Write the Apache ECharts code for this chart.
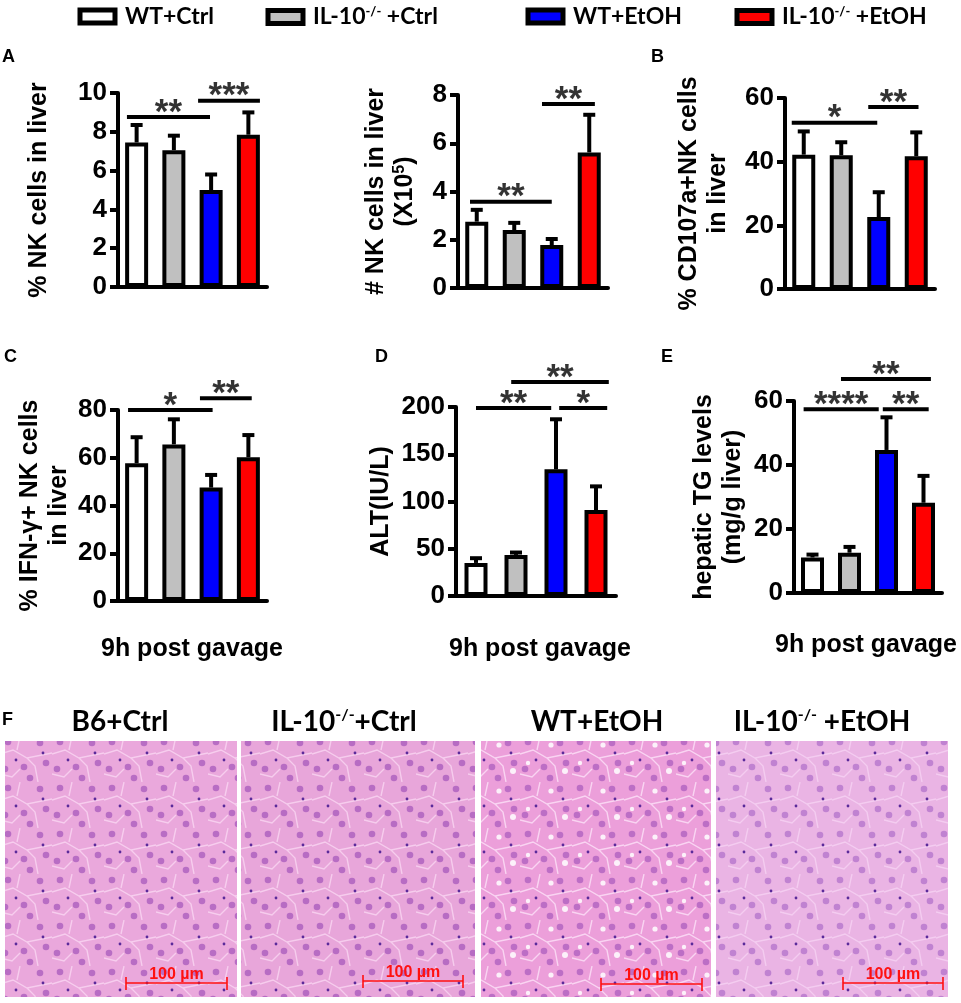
<!DOCTYPE html>
<html>
<head>
<meta charset="utf-8">
<script src="https://cdn.jsdelivr.net/npm/echarts@6/dist/echarts.min.js"></script>
<style>
html, body { margin: 0; padding: 0; background: #fff; }
#chart { width: 961px; height: 1003px; }
</style>
</head>
<body>
<div id="chart"></div>
<script>
const groups = ['WT+Ctrl', 'IL-10-/-+Ctrl', 'WT+EtOH', 'IL-10-/-+EtOH'];
const groupColors = ['#ffffff', '#c0c0c0', '#0000ff', '#ff0000'];

// A left: % NK cells in liver
const nkPctMean = [7.45, 7.05, 5.0, 7.85];
const nkPctSd = [0.9, 0.75, 0.8, 1.15];
// significance bars: [from, to, height, stars] (x in category units)
const nkPctSig = [[-0.26, 1.97, 8.76, '**'], [1.65, 3.31, 9.6, '***']];

// A right: # NK cells in liver (x10^5)
const nkNumMean = [2.75, 2.4, 1.78, 5.62];
const nkNumSd = [0.49, 0.3, 0.25, 1.56];
const nkNumSig = [[-0.18, 2.0, 3.58, '**'], [1.74, 3.15, 7.63, '**']];

// B: % CD107a+ NK cells
const cd107Mean = [42.2, 42.0, 22.6, 41.7];
const cd107Sd = [7.3, 4.1, 7.8, 7.5];
const cd107Sig = [[-0.32, 1.96, 52.2, '*'], [1.72, 3.06, 57.2, '**']];

// C: % IFN-g+ NK cells
const ifnMean = [57.7, 65.6, 47.5, 60.2];
const ifnSd = [10.9, 10.5, 5.3, 9.3];
const ifnSig = [[-0.23, 2.04, 80, '*'], [1.7, 3.09, 84.9, '**']];

// D: ALT
const altMean = [35, 43.5, 134, 91];
const altSd = [5, 2.5, 53, 25];
const altSig = [[0.0, 1.88, 199, '**'], [0.88, 3.32, 226.5, '**'], [2.08, 3.28, 199, '*']];

// E: hepatic TG
const tgMean = [11.1, 12.6, 44.7, 28.2];
const tgSd = [0.9, 1.8, 10.2, 8.4];
const tgSig = [[-0.24, 1.79, 57.4, '****'], [1.9, 3.14, 57.4, '**'], [0.77, 3.2, 66.9, '**']];

const FONT = "'Liberation Sans', Arial, sans-serif";
const CAL = "Lato, 'Liberation Sans', sans-serif";

const panels = [
  { mean: nkPctMean, sd: nkPctSd, sig: nkPctSig, name: '% NK cells in liver', max: 10, step: 2, box: [118, 93, 149, 194], gap: 64 },
  { mean: nkNumMean, sd: nkNumSd, sig: nkNumSig, name: '# NK cells in liver\n(X10{sup|5})', max: 8, step: 2, box: [458, 95, 150, 193], gap: 38 },
  { mean: cd107Mean, sd: cd107Sd, sig: cd107Sig, name: '% CD107a+NK cells\nin liver', max: 60, step: 20, box: [785, 98, 150, 191], gap: 52 },
  { mean: ifnMean, sd: ifnSd, sig: ifnSig, name: '% IFN-γ+ NK cells\nin liver', max: 80, step: 20, box: [118, 410, 149, 191], gap: 44 },
  { mean: altMean, sd: altSd, sig: altSig, name: 'ALT(IU/L)', max: 200, step: 50, box: [456, 407, 160, 189], gap: 60 },
  { mean: tgMean, sd: tgSd, sig: tgSig, name: 'hepatic TG levels\n(mg/g liver)', max: 60, step: 20, box: [794, 401, 148, 192], gap: 46 }
];

function errRender(params, api) {
  const x = api.value(0);
  const lo = api.coord([x, api.value(1)]);
  const hi = api.coord([x, api.value(2)]);
  return {
    type: 'group',
    children: [
      { type: 'line', shape: { x1: lo[0], y1: lo[1], x2: hi[0], y2: hi[1] }, style: { stroke: '#000', lineWidth: 4 } },
      { type: 'line', shape: { x1: hi[0] - 6, y1: hi[1], x2: hi[0] + 6, y2: hi[1] }, style: { stroke: '#000', lineWidth: 4 } }
    ]
  };
}

const grid = [], xAxis = [], yAxis = [], series = [];
panels.forEach((p, k) => {
  grid.push({ left: p.box[0], top: p.box[1], width: p.box[2], height: p.box[3] });
  xAxis.push({
    type: 'category', gridIndex: k, data: groups,
    axisLine: { onZero: false, lineStyle: { color: '#000', width: 4 } },
    axisTick: { alignWithLabel: true, length: 8, lineStyle: { color: '#000', width: 4 } },
    axisLabel: { show: false }
  });
  xAxis.push({ type: 'value', gridIndex: k, min: -0.5, max: 3.5, show: false });
  yAxis.push({
    type: 'value', gridIndex: k, min: 0, max: p.max, interval: p.step,
    name: p.name, nameLocation: 'middle', nameRotate: 90, nameGap: p.gap,
    nameTextStyle: {
      fontFamily: FONT, fontWeight: 'bold', fontSize: 25, color: '#000', lineHeight: 29,
      rich: { sup: { fontFamily: FONT, fontWeight: 'bold', fontSize: 16, color: '#000', padding: [0, 0, 12, 0] } }
    },
    axisLine: { show: true, onZero: false, lineStyle: { color: '#000', width: 4 } },
    axisTick: { show: true, length: 8, lineStyle: { color: '#000', width: 4 } },
    axisLabel: { fontFamily: FONT, fontWeight: 'bold', fontSize: 26, color: '#000', margin: 11 },
    splitLine: { show: false }
  });
  const xc = 2 * k, xv = 2 * k + 1;
  groups.forEach((g, i) => {
    series.push({
      type: 'bar', name: g, xAxisIndex: xc, yAxisIndex: k, barWidth: 23, barGap: '-100%', silent: true,
      data: p.mean.map((v, j) => (j === i ? v : '-')),
      itemStyle: { color: groupColors[i], borderColor: '#000', borderWidth: 4 }
    });
  });
  series.push({
    type: 'custom', xAxisIndex: xc, yAxisIndex: k, silent: true,
    data: p.mean.map((v, i) => [i, v, v + p.sd[i]]),
    renderItem: errRender
  });
  p.sig.forEach(s => {
    series.push({
      type: 'line', xAxisIndex: xv, yAxisIndex: k, clip: false, silent: true, symbol: 'none',
      data: [[s[0], s[2]], [s[1], s[2]]],
      lineStyle: { color: '#000', width: 4 }
    });
  });
  series.push({
    type: 'scatter', xAxisIndex: xv, yAxisIndex: k, clip: false, silent: true, symbolSize: 1,
    itemStyle: { color: 'transparent' },
    data: p.sig.map(s => [(s[0] + s[1]) / 2, s[2], s[3]]),
    label: {
      show: true, position: 'inside', offset: [0, -4],
      formatter: q => q.data[2],
      fontFamily: FONT, fontWeight: 'bold', fontSize: 35, color: '#000'
    }
  });
});

function splitName(name) {
  const m = name.split('-/-');
  if (m.length > 1) return '{g|}{n|' + m[0] + '}{s|-/-}{n| ' + m[1] + '}';
  return '{g|}{n|' + name + '}';
}

const legendLeft = [72.5, 260.5, 520.5, 729.5];
const legend = groups.map((g, i) => ({
  data: [g], left: legendLeft[i], top: 0, orient: 'horizontal', selectedMode: false,
  icon: 'rect', itemWidth: 35, itemHeight: 13,
  itemStyle: { color: groupColors[i], borderColor: '#000', borderWidth: 5 },
  formatter: splitName,
  textStyle: {
    rich: {
      g: { width: 5 },
      n: { fontFamily: CAL, fontWeight: 'bold', fontSize: 23, color: '#000' },
      s: { fontFamily: CAL, fontWeight: 'bold', fontSize: 13, color: '#000', padding: [0, 0, 11, 0] }
    }
  }
}));

// histology tile textures
function tissue(base, streak, nuc, holes) {
  const c = document.createElement('canvas');
  c.width = 52; c.height = 46;
  const g = c.getContext('2d');
  g.fillStyle = base; g.fillRect(0, 0, 52, 46);
  g.strokeStyle = streak; g.lineWidth = 1.4;
  g.beginPath();
  g.moveTo(0, 18); g.lineTo(13, 14); g.lineTo(27, 22); g.lineTo(52, 17);
  g.moveTo(20, 0); g.lineTo(17, 14);
  g.moveTo(38, 46); g.lineTo(35, 30); g.lineTo(27, 22);
  g.moveTo(0, 38); g.lineTo(12, 41); g.lineTo(20, 33);
  g.stroke();
  if (holes) {
    g.fillStyle = 'rgba(255,255,255,0.85)';
    [[31, 9, 2.6], [8, 27, 2.2], [45, 35, 3]].forEach(([x, y, r]) => { g.beginPath(); g.arc(x, y, r, 0, 7); g.fill(); });
  }
  g.fillStyle = nuc;
  [[8, 6], [40, 7], [24, 31], [46, 27], [5, 33], [30, 42]].forEach(([x, y]) => {
    g.beginPath(); g.arc(x, y, 3.3, 0, 7); g.fill();
  });
  g.fillStyle = '#5a2a9a';
  [[16, 24], [43, 17]].forEach(([x, y]) => { g.beginPath(); g.arc(x, y, 1.4, 0, 7); g.fill(); });
  return c;
}

const tiles = [
  tissue('#eaa8dc', 'rgba(255,230,250,0.6)', 'rgba(150,70,180,0.6)', false),
  tissue('#e8a6da', 'rgba(255,230,250,0.6)', 'rgba(150,70,180,0.6)', false),
  tissue('#ec9fda', 'rgba(255,235,252,0.7)', 'rgba(150,70,180,0.55)', true),
  tissue('#eab4e4', 'rgba(250,220,248,0.6)', 'rgba(150,80,190,0.5)', false)
];

const imgBoxes = [[5, 741, 232, 256], [241, 741, 234, 256], [481, 741, 230, 256], [716, 741, 232, 256]];
const imgTitles = ['B6+Ctrl', 'IL-10-/-+Ctrl', 'WT+EtOH', 'IL-10-/- +EtOH'];
const imgTitleX = [120, 344, 597, 822];
const scaleBars = [[126, 227, 983], [363, 463, 981], [601, 702, 984], [843, 943, 983]];

const graphic = [];
function txt(text, x, y, size, align) {
  return {
    type: 'text', x: x, y: y, silent: true,
    style: { text: text, fontFamily: FONT, fontWeight: 'bold', fontSize: size, fill: '#000', align: align || 'left', verticalAlign: 'middle' }
  };
}
graphic.push(txt('A', 2, 57, 18));
graphic.push(txt('B', 651, 57, 18));
graphic.push(txt('C', 4, 357, 18));
graphic.push(txt('D', 375, 357, 18));
graphic.push(txt('E', 661, 357, 18));
graphic.push(txt('F', 2, 720, 18));
graphic.push(txt('9h post gavage', 192, 649, 25, 'center'));
graphic.push(txt('9h post gavage', 540, 649, 25, 'center'));
graphic.push(txt('9h post gavage', 866, 645, 25, 'center'));

imgBoxes.forEach((b, i) => {
  graphic.push({
    type: 'rect', silent: true, shape: { x: b[0], y: b[1], width: b[2], height: b[3] },
    style: { fill: { image: tiles[i], repeat: 'repeat' } }
  });
  const parts = imgTitles[i].split('-/-');
  const t = parts.length > 1 ? '{n|' + parts[0] + '}{s|-/-}{n|' + parts[1] + '}' : '{n|' + parts[0] + '}';
  graphic.push({
    type: 'text', x: imgTitleX[i], y: 722, silent: true,
    style: {
      text: t, align: 'center', verticalAlign: 'middle',
      rich: {
        n: { fontFamily: CAL, fontWeight: 'bold', fontSize: 28, fill: '#000' },
        s: { fontFamily: CAL, fontWeight: 'bold', fontSize: 16, fill: '#000', padding: [0, 0, 14, 0] }
      }
    }
  });
  const sb = scaleBars[i];
  graphic.push({ type: 'line', silent: true, shape: { x1: sb[0], y1: sb[2], x2: sb[1], y2: sb[2] }, style: { stroke: '#ff1010', lineWidth: 1.6 } });
  graphic.push({ type: 'line', silent: true, shape: { x1: sb[0], y1: sb[2] - 6, x2: sb[0], y2: sb[2] + 7 }, style: { stroke: '#ff1010', lineWidth: 1.6 } });
  graphic.push({ type: 'line', silent: true, shape: { x1: sb[1], y1: sb[2] - 6, x2: sb[1], y2: sb[2] + 7 }, style: { stroke: '#ff1010', lineWidth: 1.6 } });
  graphic.push({
    type: 'text', silent: true, x: (sb[0] + sb[1]) / 2, y: sb[2] - 8,
    style: { text: '100 µm', fontFamily: FONT, fontWeight: 'bold', fontSize: 16, fill: '#ff1010', align: 'center', verticalAlign: 'middle' }
  });
});

const chart = echarts.init(document.getElementById('chart'), null, { renderer: 'canvas' });
chart.setOption({
  animation: false,
  backgroundColor: '#fff',
  grid: grid,
  xAxis: xAxis,
  yAxis: yAxis,
  legend: legend,
  series: series,
  graphic: graphic
});
</script>
</body>
</html>
